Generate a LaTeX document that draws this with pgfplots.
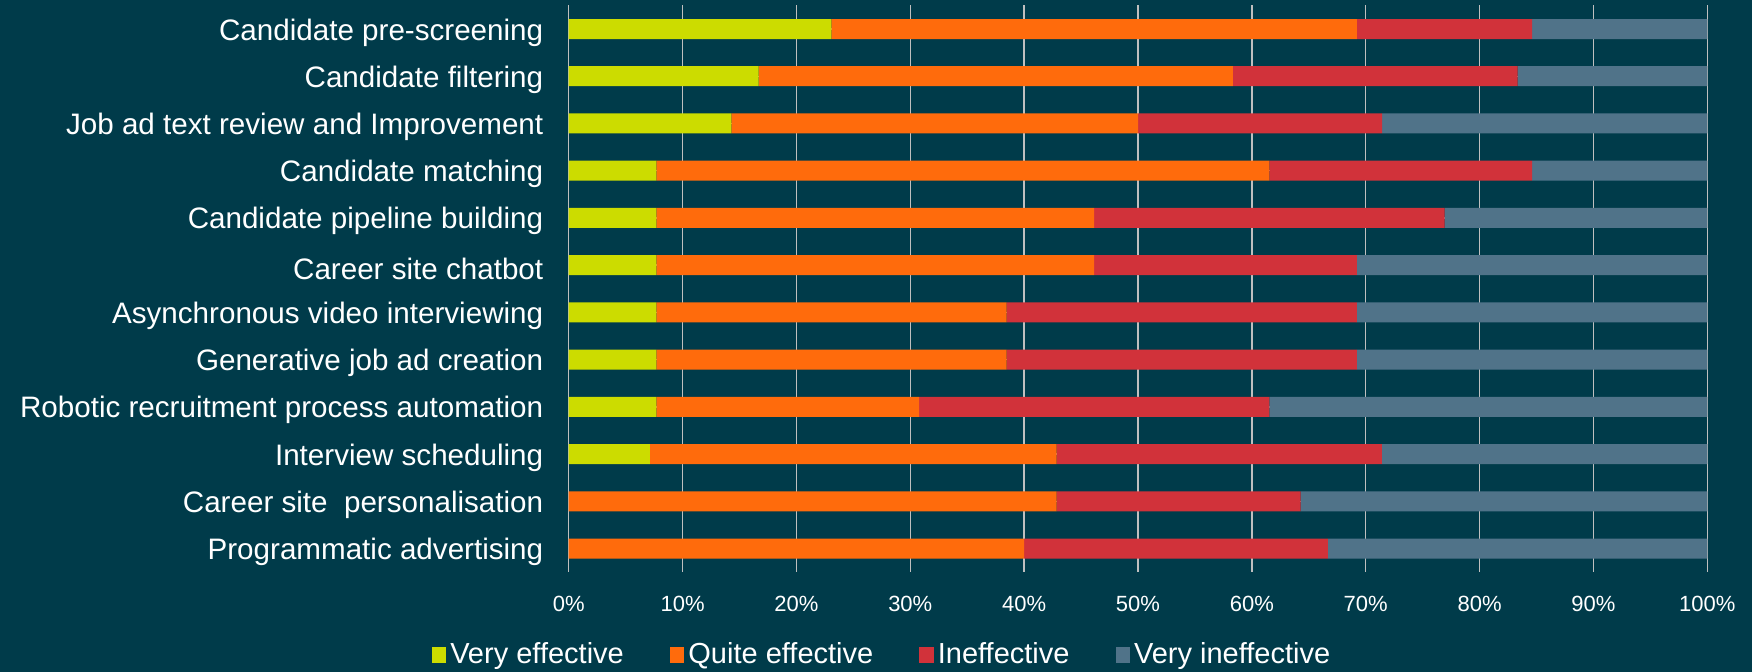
\documentclass[border=0pt]{standalone}
\usepackage{pgfplots}
\pgfplotsset{compat=1.18}
\usepackage{fontspec}
\setmainfont{Liberation Sans}
\definecolor{bg}{HTML}{003B4A}
\definecolor{cgreen}{HTML}{CCDC00}
\definecolor{corange}{HTML}{FF6B0C}
\definecolor{cred}{HTML}{D1323A}
\definecolor{cgray}{HTML}{507389}
\definecolor{grid}{HTML}{D9D9D9}
\begin{document}
\begin{tikzpicture}
\fill[bg] (0,0) rectangle (876pt,336pt);
\begin{axis}[
  at={(284.35pt,49.9pt)}, anchor=south west,
  scale only axis, width=569.3pt, height=283.4pt,
  xbar stacked, bar width=10pt,
  xmin=0, xmax=100, ymin=-0.5, ymax=11.5,
  y dir=reverse,
  axis line style={draw=none},
  xmajorgrids, major grid style={grid, line width=0.7pt},
  xtick={0,10,...,100},
  ytick={0,...,11},
  yticklabels={Candidate pre-screening, Candidate filtering, Job ad text review and Improvement, Candidate matching, Candidate pipeline building, Career site chatbot, Asynchronous video interviewing, Generative job ad creation, Robotic recruitment process automation, Interview scheduling, Career site~ personalisation, Programmatic advertising},
  yticklabel style={font=\fontsize{14.8}{16}\selectfont, text=white, xshift=-9.2pt, yshift=-1.7pt},
  xticklabel={\pgfmathprintnumber{\tick}\%},
  xticklabel style={font=\fontsize{11}{12}\selectfont, text=white, yshift=-8.5pt},
  /pgf/number format/assume math mode=true,
  tick style={draw=none},
  legend columns=4,
  legend style={at={(0.276,-0.1455)}, anchor=center, draw=none, fill=none,
    font=\fontsize{14.5}{16}\selectfont, text=white,
    /tikz/every even column/.append style={column sep=21pt},
    inner sep=0pt},
  legend image code/.code={\fill[#1] (0pt,-4pt) rectangle (7.3pt,4pt);},
  legend cell align=left,
]
\addplot[fill=cgreen, draw=none] coordinates {(23.08,0) (16.67,1) (14.29,2) (7.69,3) (7.69,4) (7.69,5) (7.69,6) (7.69,7) (7.69,8) (7.14,9) (0,10) (0,11)};
\addplot[fill=corange, draw=none] coordinates {(46.15,0) (41.67,1) (35.71,2) (53.85,3) (38.46,4) (38.46,5) (30.77,6) (30.77,7) (23.08,8) (35.71,9) (42.86,10) (40.00,11)};
\addplot[fill=cred, draw=none] coordinates {(15.38,0) (25.00,1) (21.43,2) (23.08,3) (30.77,4) (23.08,5) (30.77,6) (30.77,7) (30.77,8) (28.57,9) (21.43,10) (26.67,11)};
\addplot[fill=cgray, draw=none] coordinates {(15.39,0) (16.66,1) (28.57,2) (15.38,3) (23.08,4) (30.77,5) (30.77,6) (30.77,7) (38.46,8) (28.58,9) (35.71,10) (33.33,11)};
\legend{Very effective, Quite effective, Ineffective, Very ineffective}
\end{axis}
\pgfresetboundingbox
\path[use as bounding box] (0,0) rectangle (876pt,336pt);
\end{tikzpicture}
\end{document}
